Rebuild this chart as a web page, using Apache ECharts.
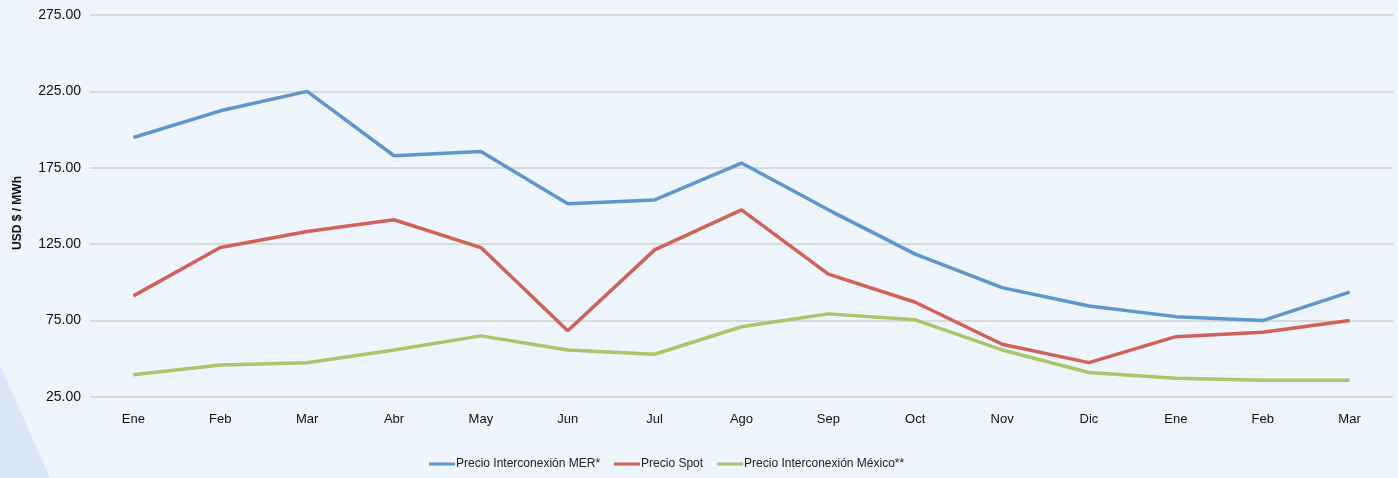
<!DOCTYPE html>
<html>
<head>
<meta charset="utf-8">
<script src="https://cdn.jsdelivr.net/npm/echarts@6/dist/echarts.min.js"></script>
<style>
html,body{margin:0;padding:0;background:#eff5fc;}
#c{width:1398px;height:478px;}
</style>
</head>
<body>
<div id="c"></div>
<script>
const categories = ['Ene','Feb','Mar','Abr','May','Jun','Jul','Ago','Sep','Oct','Nov','Dic','Ene','Feb','Mar'];
const merValues = [194.8, 212.3, 225.0, 182.9, 185.7, 151.4, 154.0, 178.1, 147.5, 118.5, 96.6, 84.6, 77.6, 75.0, 93.6];
const spotValues = [91.2, 122.8, 133.3, 141.0, 122.8, 68.4, 121.3, 147.5, 105.4, 87.0, 59.5, 47.5, 64.5, 67.4, 75.0];
const mexicoValues = [39.6, 46.0, 47.4, 55.8, 65.0, 55.8, 53.0, 71.0, 79.4, 75.5, 55.8, 41.0, 37.3, 36.0, 36.0];
const seriesNames = ['Precio Interconexión MER*', 'Precio Spot', 'Precio Interconexión México**'];
const yTicks = { min: 25, max: 275, interval: 50 };
const yTitle = 'USD $ / MWh';

const FONT = '"Liberation Sans", Arial, sans-serif';
const colors = ['#5f96cb', '#d0625a', '#a9c66a'];
const chart = echarts.init(document.getElementById('c'), null, {renderer: 'canvas'});
const data = [merValues, spotValues, mexicoValues];
chart.setOption({
  backgroundColor: '#eff5fc',
  animation: false,
  graphic: [{
    type: 'polygon',
    z: -1,
    shape: { points: [[0, 365], [50, 478], [0, 478]] },
    style: { fill: '#dbe6f6' }
  }, {
    type: 'text',
    x: 18,
    y: 213,
    rotation: Math.PI / 2,
    style: {
      text: yTitle,
      fontFamily: FONT, fontSize: 12, fontWeight: 'bold', fill: '#111',
      align: 'center', verticalAlign: 'middle'
    }
  }],
  grid: { left: 90, right: 5, top: 15, bottom: 81, containLabel: false, outerBoundsMode: 'none' },
  legend: {
    top: 453,
    left: 424,
    icon: 'rect',
    itemWidth: 26,
    itemHeight: 3,
    itemGap: 14,
    textStyle: { fontFamily: FONT, fontSize: 12, color: '#222', padding: [0, 0, 0, -4] },
    data: seriesNames
  },
  xAxis: {
    type: 'category',
    data: categories,
    boundaryGap: true,
    axisLine: { show: false },
    axisTick: { show: false },
    axisLabel: { fontFamily: FONT, fontSize: 13, color: '#111', margin: 16 }
  },
  yAxis: {
    type: 'value',
    min: yTicks.min,
    max: yTicks.max,
    interval: yTicks.interval,
    axisLine: { show: false },
    axisTick: { show: false },
    axisLabel: { fontFamily: FONT, fontSize: 14, color: '#111', margin: 9, formatter: v => v.toFixed(2) },
    splitLine: { lineStyle: { color: '#dadada', width: 2 } }
  },
  series: seriesNames.map((n, i) => ({
    name: n,
    type: 'line',
    data: data[i],
    symbol: 'none',
    lineStyle: { width: 3.5, color: colors[i] },
    itemStyle: { color: colors[i] }
  }))
});
</script>
</body>
</html>
